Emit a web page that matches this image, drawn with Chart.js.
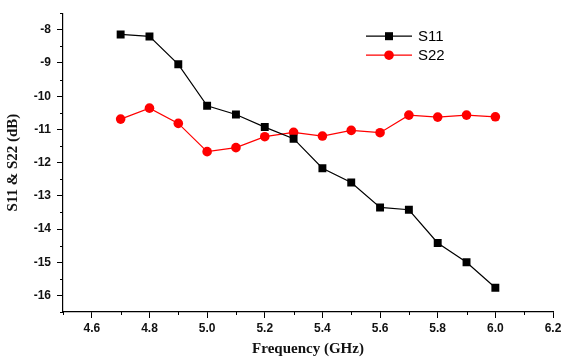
<!DOCTYPE html>
<html>
<head>
<meta charset="utf-8">
<script src="https://cdn.jsdelivr.net/npm/chart.js@4/dist/chart.umd.min.js"></script>
<style>
    html, body { margin: 0; padding: 0; background: #fff; }
    #wrap { width: 565px; height: 358px; }
</style>
</head>
<body>
<div id="wrap"><canvas id="myChart" width="565" height="358"></canvas></div>
<script>
// values
const freq = [4.7, 4.8, 4.9, 5.0, 5.1, 5.2, 5.3, 5.4, 5.5, 5.6, 5.7, 5.8, 5.9, 6.0];
const s11 = [-8.14, -8.20, -9.04, -10.29, -10.55, -10.93, -11.28, -12.17, -12.60, -13.35, -13.42, -14.42, -15.00, -15.77];
const s22 = [-10.69, -10.36, -10.82, -11.67, -11.55, -11.22, -11.09, -11.20, -11.03, -11.10, -10.57, -10.63, -10.57, -10.62];
const xTicks = [4.6, 4.8, 5.0, 5.2, 5.4, 5.6, 5.8, 6.0, 6.2];
const yTicks = [-8, -9, -10, -11, -12, -13, -14, -15, -16];

const tickFont = { family: '"Liberation Sans", Arial, sans-serif', size: 12, weight: 'bold' };
const titleFont = { family: '"Liberation Serif", "Times New Roman", serif', size: 15, weight: 'bold', lineHeight: 1 };

// small outward minor ticks, like the origin plot
const minorTicks = {
    id: 'minorTicks',
    afterDraw(chart) {
        const { ctx, scales: { x, y } } = chart;
        ctx.save();
        ctx.strokeStyle = '#000';
        ctx.lineWidth = 1;
        ctx.beginPath();
        for (let i = 0; i <= 17; i += 2) {
            const px = Math.round(x.getPixelForValue(4.5 + i * 0.1)) + 0.5;
            ctx.moveTo(px, x.top);
            ctx.lineTo(px, x.top + 3);
        }
        for (let j = 0; j <= 18; j += 2) {
            const py = Math.round(y.getPixelForValue(-16.5 + j * 0.5)) + 0.5;
            ctx.moveTo(y.right - 3, py);
            ctx.lineTo(y.right, py);
        }
        ctx.stroke();
        ctx.restore();
    }
};

// legend sitting inside the plot area
const insideLegend = {
    id: 'insideLegend',
    afterDraw(chart) {
        const { ctx, chartArea } = chart;
        const x0 = chartArea.left + 303;
        const rows = [
            { label: 'S11', color: '#000', y: chartArea.top + 23, square: true },
            { label: 'S22', color: '#ff0000', y: chartArea.top + 42, square: false }
        ];
        ctx.save();
        rows.forEach(r => {
            ctx.strokeStyle = r.color;
            ctx.fillStyle = r.color;
            ctx.lineWidth = 1.2;
            ctx.beginPath();
            ctx.moveTo(x0, r.y);
            ctx.lineTo(x0 + 46, r.y);
            ctx.stroke();
            if (r.square) {
                ctx.fillRect(x0 + 19, r.y - 4, 8, 8);
            } else {
                ctx.beginPath();
                ctx.arc(x0 + 23, r.y, 4.8, 0, Math.PI * 2);
                ctx.fill();
            }
            ctx.fillStyle = '#000';
            ctx.font = '15px "Liberation Sans", Arial, sans-serif';
            ctx.textBaseline = 'middle';
            ctx.fillText(r.label, x0 + 52, r.y + 1);
        });
        ctx.restore();
    }
};

const canvas = document.getElementById('myChart');
const myChart = new Chart(canvas, {
    type: 'line',
    data: {
        datasets: [{
            label: 'S11',
            data: freq.map((f, i) => ({ x: f, y: s11[i] })),
            borderColor: '#000',
            backgroundColor: '#000',
            borderWidth: 1.2,
            pointStyle: 'rect',
            pointRadius: 5.6,
            pointBorderWidth: 0,
            tension: 0
        }, {
            label: 'S22',
            data: freq.map((f, i) => ({ x: f, y: s22[i] })),
            borderColor: '#ff0000',
            backgroundColor: '#ff0000',
            borderWidth: 1.2,
            pointStyle: 'circle',
            pointRadius: 4.8,
            pointBorderWidth: 0,
            tension: 0
        }]
    },
    options: {
        responsive: false,
        animation: false,
        devicePixelRatio: 1,
        layout: { padding: { top: 12, right: 12, left: 0, bottom: 0 } },
        scales: {
            x: {
                type: 'linear',
                min: 4.5,
                max: 6.2,
                afterBuildTicks: (scale) => { scale.ticks = xTicks.map(v => ({ value: v })); },
                afterFit: (scale) => { scale.height = 46; },
                border: { color: '#000', width: 1.2 },
                grid: { display: true, drawOnChartArea: false, tickLength: 6, color: '#000', tickColor: '#000' },
                ticks: {
                    color: '#111',
                    font: tickFont,
                    padding: 3,
                    maxRotation: 0,
                    autoSkip: false,
                    callback: (v) => Number(v).toFixed(1)
                },
                title: { display: true, text: 'Frequency (GHz)', color: '#111', font: titleFont, padding: { top: 0, bottom: 1 } }
            },
            y: {
                type: 'linear',
                min: -16.5,
                max: -7.5,
                afterBuildTicks: (scale) => { scale.ticks = yTicks.map(v => ({ value: v })); },
                afterFit: (scale) => { scale.width = 63; },
                border: { color: '#000', width: 1.2 },
                grid: { display: true, drawOnChartArea: false, tickLength: 6, color: '#000', tickColor: '#000' },
                ticks: {
                    color: '#111',
                    font: tickFont,
                    padding: 6,
                    autoSkip: false
                },
                title: { display: true, text: 'S11 & S22 (dB)', color: '#111', font: titleFont, padding: { top: 6, bottom: 0 } }
            }
        },
        plugins: {
            legend: { display: false },
            tooltip: { enabled: false }
        }
    },
    plugins: [minorTicks, insideLegend]
});
</script>
</body>
</html>
